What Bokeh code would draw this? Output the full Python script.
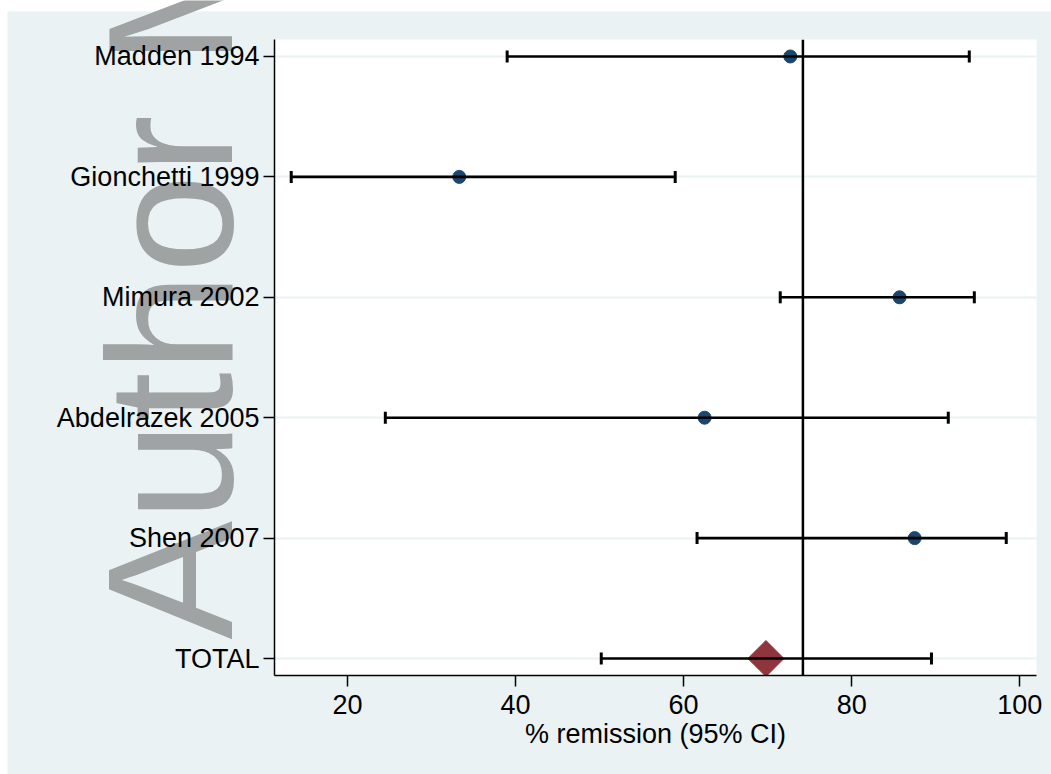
import numpy as np
from bokeh.plotting import figure
from bokeh.models import (ColumnDataSource, FixedTicker, Span, Whisker, TeeHead, Range1d)
from bokeh.core.properties import value
from bokeh.embed import file_html
from bokeh.resources import INLINE

# ---- data ----
studies = ["Madden 1994", "Gionchetti 1999", "Mimura 2002", "Abdelrazek 2005", "Shen 2007"]
estimates = [72.7, 33.3, 85.7, 62.5, 87.5]
ci_low = [39.0, 13.3, 71.5, 24.5, 61.6]
ci_high = [94.0, 59.0, 94.6, 91.5, 98.4]
total_name = "TOTAL"
total_est = [69.8]
total_low = [50.2]
total_high = [89.5]
reference_x = 74.2
x_ticks = [20, 40, 60, 80, 100]
x_title = "% remission (95% CI)"
watermark = "Author Manuscript"

FONT = "Liberation Sans"
BG = "#EAF2F3"
W, H = 1051, 774
OX, OY = 7, 11  # offset of the graph region (white page margin)

# ---------- background page: light panel + watermark ----------
bg = figure(width=W, height=H, x_range=Range1d(0, W), y_range=Range1d(0, H),
            x_axis_type=None, y_axis_type=None, output_backend="svg",
            toolbar_location=None, min_border=0)
bg.outline_line_color = None
bg.background_fill_color = "white"
bg.border_fill_color = "white"
bg.grid.grid_line_color = None
bg.quad(left=[OX], right=[W], bottom=[0], top=[H - OY], fill_color=BG, line_color=None)
bg.text(x=[170], y=[H - 639], text=[watermark], angle=np.pi / 2,
        text_font=value(FONT), text_font_size=value("178px"), text_color="#9FA3A3",
        text_align="left", text_baseline="alphabetic")

# ---------- main forest plot ----------
names = studies + [total_name]
n = len(names)
ypos = list(range(n, 0, -1))  # Madden at top, TOTAL at 1

study_src = ColumnDataSource(dict(y=ypos[:len(studies)], est=estimates, lo=ci_low, hi=ci_high))
total_src = ColumnDataSource(dict(y=[ypos[-1]], est=total_est, lo=total_low, hi=total_high))
all_src = ColumnDataSource(dict(y=ypos, lo=ci_low + total_low, hi=ci_high + total_high))

p = figure(frame_width=762, frame_height=636,
           x_range=Range1d(11.31, 102.0), y_range=Range1d(0.859, 6.141),
           output_backend="svg", toolbar_location=None,
           min_border_left=267, min_border_right=15, min_border_top=28, min_border_bottom=99)
p.styles = {"position": "absolute", "left": f"{OX}px", "top": f"{OY}px", "z-index": "2"}
p.background_fill_color = "white"
p.border_fill_color = None
p.border_fill_alpha = 0
p.outline_line_color = None

# grid
p.xgrid.grid_line_color = None
p.ygrid.ticker = FixedTicker(ticks=ypos)
p.ygrid.grid_line_color = BG
p.ygrid.grid_line_width = 2

# axes
p.yaxis.ticker = FixedTicker(ticks=ypos)
p.yaxis.major_label_overrides = {y: nm for y, nm in zip(ypos, names)}
p.xaxis.ticker = FixedTicker(ticks=x_ticks)
p.xaxis.axis_label = x_title
for ax in (p.xaxis[0], p.yaxis[0]):
    ax.axis_line_color = "black"
    ax.axis_line_width = 1.5
    ax.major_tick_line_color = "black"
    ax.major_tick_line_width = 1.5
    ax.major_tick_out = 11
    ax.major_tick_in = 0
    ax.minor_tick_line_color = None
    ax.major_label_text_font = FONT
    ax.major_label_text_font_size = "27px"
    ax.major_label_text_color = "black"
    ax.axis_label_text_font = FONT
    ax.axis_label_text_font_size = "27px"
    ax.axis_label_text_font_style = "normal"
    ax.axis_label_text_color = "black"
p.yaxis.major_label_standoff = 4
p.xaxis.major_label_standoff = 8
p.xaxis.axis_label_standoff = 2

# reference line
p.add_layout(Span(location=reference_x, dimension="height", line_color="black", line_width=2.5))

# total diamond (under CI line)
p.scatter(x="est", y="y", source=total_src, marker="square", angle=np.pi / 4, size=25.5,
          fill_color="#90353B", line_color="#90353B")

# CI whiskers
wh = Whisker(base="y", lower="lo", upper="hi", dimension="width", source=all_src,
             line_color="black", line_width=2.6,
             lower_head=TeeHead(size=12, line_color="black", line_width=3),
             upper_head=TeeHead(size=12, line_color="black", line_width=3))
wh.level = "glyph"
p.add_layout(wh)

# study points
p.scatter(x="est", y="y", source=study_src, marker="circle", size=13,
          fill_color="#1A476F", line_color="#1A476F")

open("out.html", "w").write(file_html([bg, p], INLINE))
